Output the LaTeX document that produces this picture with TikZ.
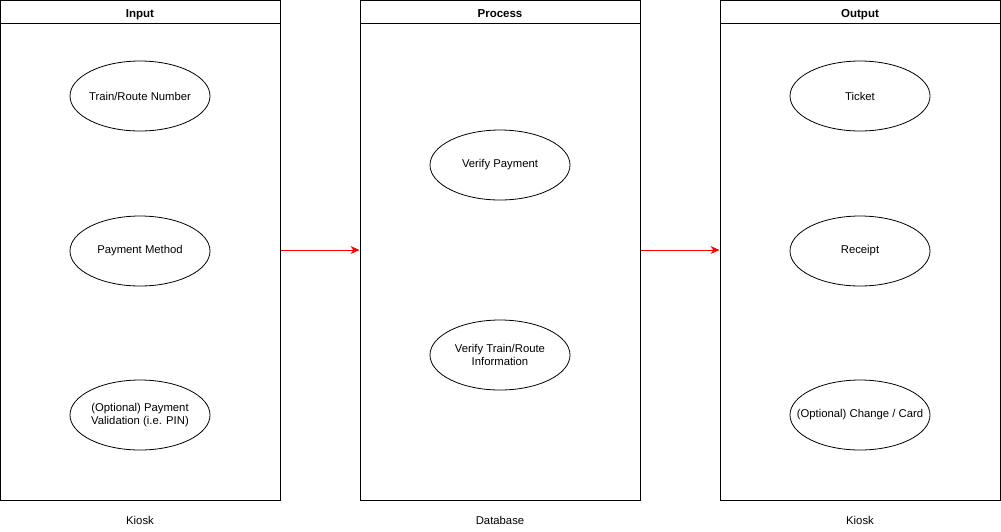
\documentclass[tikz,border=0pt]{standalone}
\usepackage{fontspec}
\setmainfont{Liberation Sans}
\usetikzlibrary{shapes.geometric, arrows.meta, positioning}

\begin{document}
\begin{tikzpicture}[x=1pt,y=-1pt,
    lane/.style={rectangle,draw=black,line width=1pt,minimum width=280pt,minimum height=500pt,inner sep=0pt},
    head/.style={rectangle,draw=black,line width=1pt,minimum width=280pt,minimum height=23pt,inner sep=0pt,text height=11pt,text depth=0pt,font=\fontsize{11.5}{14}\selectfont\bfseries},
    item/.style={ellipse,draw=black,line width=0.8pt,minimum width=140pt,minimum height=70pt,inner xsep=-30pt,inner ysep=-8pt,align=center,font=\fontsize{11.3}{13.5}\selectfont},
    tag/.style={font=\fontsize{11.3}{14}\selectfont},
    flow/.style={draw=red,line width=1pt,-{Stealth[length=9pt,width=8pt]}}]
    \useasboundingbox (0,0) rectangle (1001,531);

    % Input
    \node[lane] (in) at (140,250) {};
    \node[head,anchor=north] (inhead) at (in.north) {Input};
    \node[item] (train) at (140,96) {Train/Route Number};
    \node[item] (method) at (140,251) {Payment Method};
    \node[item] (pin) at (140,415) {(Optional) Payment\\Validation (i.e. PIN)};
    \node[tag] (inlab) at (140,520) {Kiosk};

    % Process
    \node[lane] (proc) at (500,250) {};
    \node[head,anchor=north] (prochead) at (proc.north) {Process};
    \node[item] (pay) at (500,165) {Verify Payment};
    \node[item] (route) at (500,355) {Verify Train/Route\\Information};
    \node[tag] (proclab) at (500,520) {Database};

    % Output
    \node[lane] (out) at (860,250) {};
    \node[head,anchor=north] (outhead) at (out.north) {Output};
    \node[item] (ticket) at (860,96) {Ticket};
    \node[item] (receipt) at (860,251) {Receipt};
    \node[item] (change) at (860,415) {(Optional) Change / Card};
    \node[tag] (outlab) at (860,520) {Kiosk};

    % Pfeile
    \draw[flow] (in.east) -- (proc.west);
    \draw[flow] (proc.east) -- (out.west);
\end{tikzpicture}
\end{document}
